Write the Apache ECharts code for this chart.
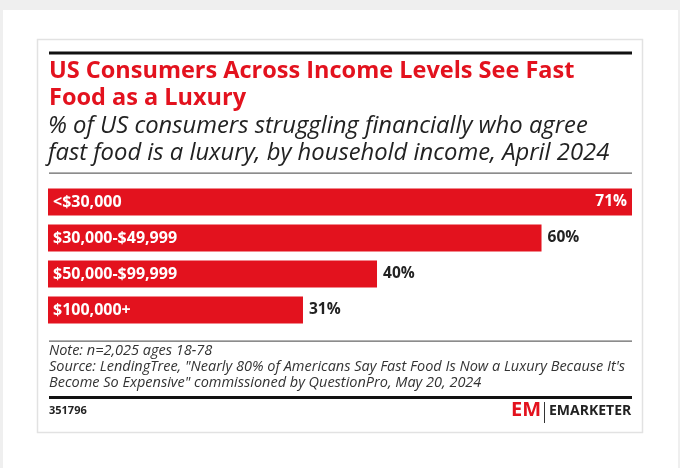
<!DOCTYPE html>
<html>
<head>
<meta charset="utf-8">
<script src="https://cdn.jsdelivr.net/npm/echarts@6/dist/echarts.min.js"></script>
<style>
html,body{margin:0;padding:0;background:#efefef;}
#c{width:680px;height:468px;}
</style>
</head>
<body>
<div id="c"></div>
<script>
const categories = ['<$30,000', '$30,000-$49,999', '$50,000-$99,999', '$100,000+'];
const values = [71, 60, 40, 31];
const titleLines = ['US Consumers Across Income Levels See Fast', 'Food as a Luxury'];
const subtitleLines = ['% of US consumers struggling financially who agree', 'fast food is a luxury, by household income, April 2024'];
const noteLines = [
  'Note: n=2,025 ages 18-78',
  'Source: LendingTree, "Nearly 80% of Americans Say Fast Food Is Now a Luxury Because It\'s',
  'Become So Expensive" commissioned by QuestionPro, May 20, 2024'
];
const chartId = '351796';

const FONT = '"Open Sans", "Noto Sans", sans-serif';
const RED = '#e3121e';
const maxVal = Math.max(...values);

const chart = echarts.init(document.getElementById('c'));

const graphics = [
  {type:'rect', shape:{x:3, y:10, width:675, height:458}, style:{fill:'#ffffff'}, silent:true, z:-10},
  {type:'rect', shape:{x:37.5, y:39.5, width:605, height:393}, style:{fill:'#ffffff', stroke:'#e2e2e2', lineWidth:1.5}, silent:true, z:-9},
  {type:'rect', shape:{x:49, y:51.5, width:583, height:3}, style:{fill:'#111'}, silent:true},
  {type:'rect', shape:{x:49, y:172.5, width:583, height:1.2}, style:{fill:'#666'}, silent:true},
  {type:'rect', shape:{x:49, y:340.5, width:583, height:1.2}, style:{fill:'#666'}, silent:true},
  {type:'rect', shape:{x:49, y:396, width:583, height:3}, style:{fill:'#111'}, silent:true},
  {type:'rect', shape:{x:544, y:402, width:1, height:21}, style:{fill:'#333'}, silent:true}
];
titleLines.forEach((t, i) => graphics.push({type:'text', left:49, top:59 + i*27, style:{text:t, fill:RED, font:'bold 23.5px ' + FONT}, silent:true}));
subtitleLines.forEach((t, i) => graphics.push({type:'text', left:48, top:114 + i*27, style:{text:t, fill:'#222', font:'italic 23.8px ' + FONT}, silent:true}));
noteLines.forEach((t, i) => graphics.push({type:'text', left:49, top:343 + i*16, style:{text:t, fill:'#333', font:'italic 14.5px ' + FONT}, silent:true}));
graphics.push({type:'text', left:49, top:405, style:{text:chartId, fill:'#222', font:'bold 11px ' + FONT}, silent:true});
graphics.push({type:'text', left:511, top:400, style:{text:'EM', fill:RED, font:'bold 20px ' + FONT}, silent:true});
graphics.push({type:'text', left:549, top:404, style:{text:'EMARKETER', fill:'#222', font:'bold 14px ' + FONT}, silent:true});

chart.setOption({
  animation:false,
  backgroundColor:'transparent',
  graphic: graphics,
  grid:{left:48, right:48, top:184, height:144},
  xAxis:{type:'value', min:0, max:maxVal, show:false},
  yAxis:{
    type:'category', data:categories, inverse:true, z:10,
    axisLine:{show:false}, axisTick:{show:false}, splitLine:{show:false},
    axisLabel:{inside:true, margin:5, color:'#fff', fontSize:16, fontWeight:'bold', fontFamily:FONT}
  },
  series:[{
    type:'bar', barWidth:27,
    itemStyle:{color:RED},
    label:{show:true, position:'right', distance:6, formatter:'{c}%', color:'#222', fontSize:15.5, fontWeight:'bold', fontFamily:FONT},
    data: values.map(v => v === maxVal ? {value:v, label:{position:'insideRight', color:'#fff', distance:5}} : v)
  }]
});
</script>
</body>
</html>
